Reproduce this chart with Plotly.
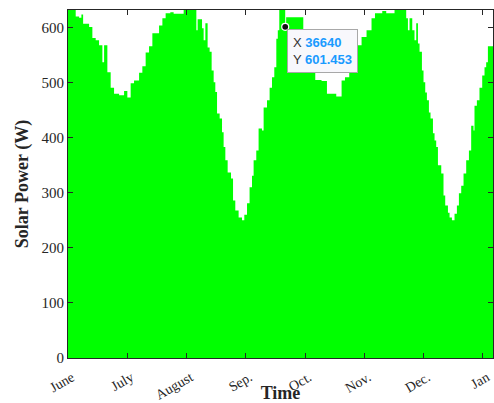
import plotly.graph_objects as go

# Time index (samples) at which the envelope of solar power steps to a new level
time_x = [0, 1300, 1870, 2260, 2550, 3560, 4110, 4670, 5240, 5800, 6090, 6640, 7200, 7770,
          8620, 9460, 10010, 10570, 11140, 11990, 12540, 13100, 13670, 14230, 15360, 15920,
          16470, 17260, 17820, 19510, 21650, 21870, 22610, 22880, 23170, 23550, 23890, 24230,
          24570, 24850, 25140, 25580, 25980, 26250, 26540, 26930, 27500, 27840, 28220, 28780,
          29350, 29740, 30200, 30630, 31040, 31310, 31760, 32150, 32720, 33000, 33570, 34010,
          34410, 34800, 35140, 35390, 35640, 36640, 36800, 39690, 40190, 40700, 41210, 41710,
          42770, 43680, 45250, 46150, 46720, 47440, 48120, 48790, 49520, 50360, 51200, 51780,
          53010, 53680, 55080, 57050, 57340, 57610, 58070, 58450, 58740, 59030, 59300, 59700,
          59970, 60260, 60540, 60880, 61150, 61560, 61830, 62110, 62400, 62960, 63340, 63630,
          64090, 64360, 64760, 65200, 65600, 65940, 66330, 66720, 67170, 67630, 68010, 68400,
          68570, 68970, 69410, 69870, 70260, 70540, 70830, 71700]

power_w = [640, 620, 618, 624, 607, 601, 581, 577, 568, 537, 568, 519, 491, 480,
           477, 485, 473, 499, 504, 518, 530, 555, 566, 590, 604, 617,
           626, 628, 625, 640, 595, 615, 599, 577, 608, 564, 556, 522,
           501, 483, 444, 435, 410, 383, 359, 337, 326, 286, 268, 255,
           250, 260, 281, 310, 331, 359, 377, 417, 413, 455, 468, 491,
           510, 528, 580, 595, 640, 601.453, 619, 590, 570, 545, 520, 505,
           503, 480, 475, 504, 510, 530, 550, 568, 583, 595, 617, 626,
           630, 626, 640, 617, 595, 617, 595, 577, 608, 571, 556, 522,
           501, 482, 468, 446, 435, 408, 395, 383, 350, 335, 295, 277,
           264, 255, 250, 262, 277, 299, 313, 335, 359, 377, 422, 413,
           458, 468, 491, 513, 528, 537, 566, 566]

tick_vals = [0, 10000, 20000, 30000, 40000, 50000, 60000, 70000]
tick_text = ["June", "July", "August", "Sep.", "Oct.", "Nov.", "Dec.", "Jan"]

tip_x = 36640
tip_y = 601.453

assert len(time_x) == len(power_w)

fig = go.Figure()
fig.add_trace(go.Scatter(
    x=time_x, y=power_w, mode="lines", line=dict(width=0, shape="hv", color="#00ff00"),
    fill="tozeroy", fillcolor="#00ff00", hoverinfo="skip", showlegend=False))
fig.add_trace(go.Scatter(
    x=[tip_x], y=[tip_y], mode="markers",
    marker=dict(size=7, color="#111111", line=dict(color="white", width=1.2)),
    showlegend=False, hoverinfo="skip", cliponaxis=False))

fig.add_annotation(
    x=tip_x, y=tip_y, xref="x", yref="y", xanchor="left", yanchor="top",
    xshift=2, yshift=-2, showarrow=False, align="left",
    text=("<span style='color:#333333'>X</span> <b>%d</b><br>"
          "<span style='color:#333333'>Y</span> <b>%s</b>") % (tip_x, "601.453"),
    font=dict(family="Liberation Sans, Arial", size=13, color="#1a9bff"),
    bgcolor="#f8f8fc", bordercolor="#a8a8a8", borderwidth=1, borderpad=5)

serif = "Liberation Serif, Times New Roman, serif"
fig.update_layout(
    width=494, height=403,
    margin=dict(l=68, r=1, t=10, b=45),
    plot_bgcolor="white", paper_bgcolor="white",
    font=dict(family=serif, size=15, color="#262626"),
    xaxis=dict(
        range=[0, 71690], tickmode="array", tickvals=tick_vals, ticktext=tick_text,
        tickangle=-30, ticks="inside", ticklen=5, tickcolor="#262626",
        showline=True, linecolor="#262626", linewidth=1, mirror="ticks",
        showgrid=False, zeroline=False, ticklabelstandoff=5, ticklabelshift=4,
        automargin=False,
        tickfont=dict(family=serif, size=14, color="#262626"),
        title=dict(text="<b>Time</b>", font=dict(family=serif, size=18, color="#262626"),
                   standoff=0),
    ),
    yaxis=dict(
        range=[0, 632], tickvals=[0, 100, 200, 300, 400, 500, 600],
        ticks="inside", ticklen=5, tickcolor="#262626",
        showline=True, linecolor="#262626", linewidth=1, mirror="ticks",
        showgrid=False, zeroline=False, automargin=False,
        tickfont=dict(family=serif, size=15, color="#262626"),
        title=dict(text="<b>Solar Power (W)</b>", font=dict(family=serif, size=18, color="#262626"),
                   standoff=8),
    ),
)

fig.write_html("out.html")
